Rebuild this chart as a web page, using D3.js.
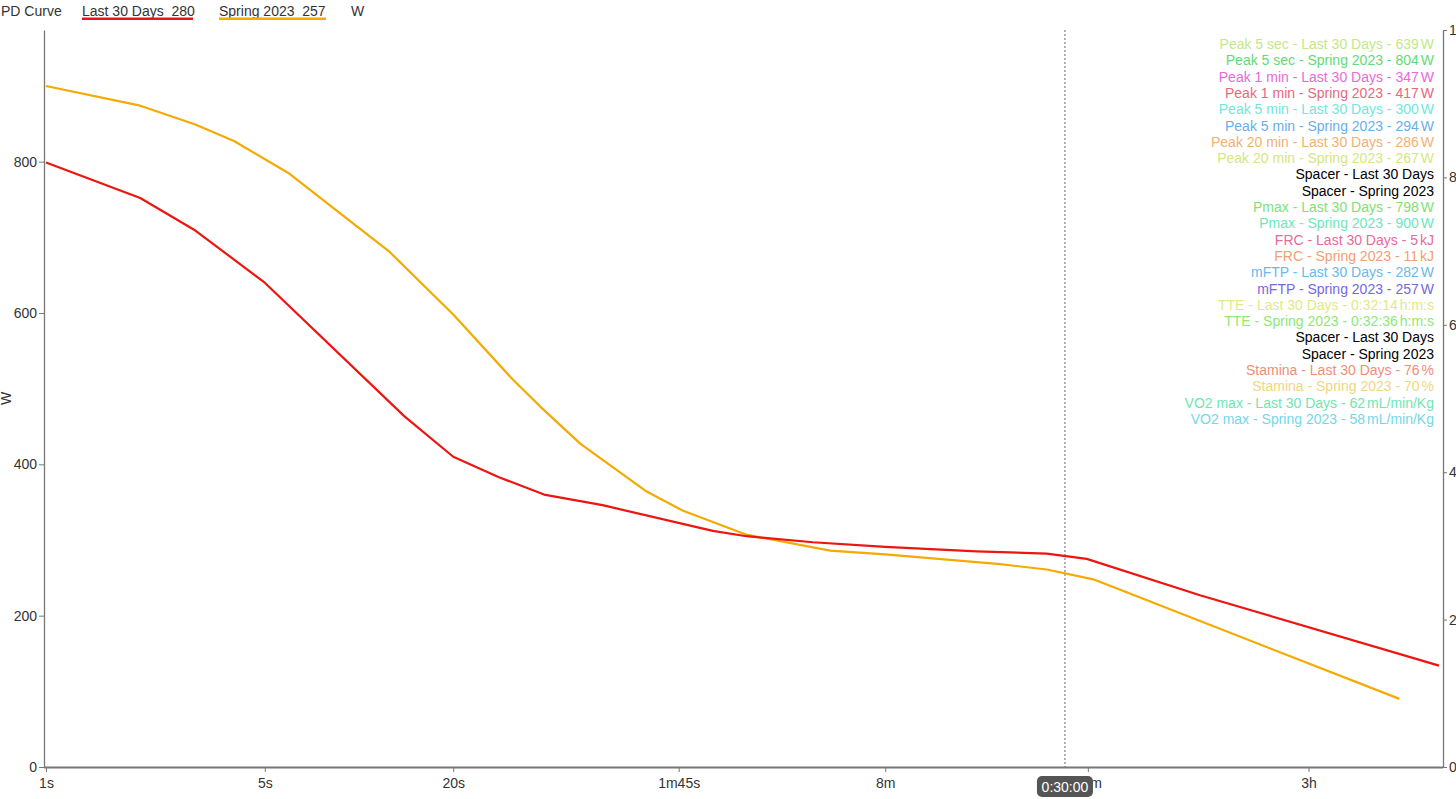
<!DOCTYPE html>
<html>
<head>
<meta charset="utf-8">
<script src="https://cdn.jsdelivr.net/npm/d3@7"></script>
<style>
  html, body { margin: 0; padding: 0; background: #fff; overflow: hidden; }
  svg { display: block; font-family: "Liberation Sans", Arial, sans-serif; }
  .axis text { fill: #333; font-size: 14px; }
  .axis path, .axis line { stroke: #777; }
</style>
</head>
<body>
<svg id="chart"></svg>
<script>
(function() {
    'use strict';

    // Power-duration curves (seconds, watts)
    const last30Secs = [1, 2, 3, 5, 14, 20, 28, 39, 60, 135, 173, 282, 480, 940, 1574, 2113, 4860, 28200];
    const last30Watts = [799, 752, 709, 640, 463, 410, 383, 360, 346, 312, 305, 297, 291, 285, 282, 275, 227, 134];

    const springSecs = [1, 2, 3, 4, 6, 9, 12.5, 20, 31, 38, 51, 83, 108, 173, 320, 480, 1117, 1574, 2218, 21080];
    const springWatts = [900, 874, 849, 827, 784, 727, 681, 598, 512, 476, 427, 364, 339, 307, 286, 281, 268, 261, 248, 90];

    // X axis ticks
    const xTickValues = [1, 5, 20, 105, 480, 2130, 10800];
    const xTickLabels = ['1s', '5s', '20s', '1m45s', '8m', '35m', '3h'];

    const yLeftTicks = [0, 200, 400, 600, 800];
    const yRightTicks = [0, 2, 4, 6, 8, 10];

    const markerSecs = 1800;
    const markerLabel = '0:30:00';

    // Legend entries on the right
    const infoLabels = [
        'Peak 5 sec - Last 30 Days - ', 'Peak 5 sec - Spring 2023 - ',
        'Peak 1 min - Last 30 Days - ', 'Peak 1 min - Spring 2023 - ',
        'Peak 5 min - Last 30 Days - ', 'Peak 5 min - Spring 2023 - ',
        'Peak 20 min - Last 30 Days - ', 'Peak 20 min - Spring 2023 - ',
        'Spacer - Last 30 Days', 'Spacer - Spring 2023',
        'Pmax - Last 30 Days - ', 'Pmax - Spring 2023 - ',
        'FRC - Last 30 Days - ', 'FRC - Spring 2023 - ',
        'mFTP - Last 30 Days - ', 'mFTP - Spring 2023 - ',
        'TTE - Last 30 Days - ', 'TTE - Spring 2023 - ',
        'Spacer - Last 30 Days', 'Spacer - Spring 2023',
        'Stamina - Last 30 Days - ', 'Stamina - Spring 2023 - ',
        'VO2 max - Last 30 Days - ', 'VO2 max - Spring 2023 - '
    ];
    const infoValues = ['639', '804', '347', '417', '300', '294', '286', '267', '', '',
        '798', '900', '5', '11', '282', '257', '0:32:14', '0:32:36', '', '',
        '76', '70', '62', '58'];
    const infoUnits = ['W', 'W', 'W', 'W', 'W', 'W', 'W', 'W', '', '',
        'W', 'W', 'kJ', 'kJ', 'W', 'W', 'h:m:s', 'h:m:s', '', '',
        '%', '%', 'mL/min/Kg', 'mL/min/Kg'];
    const infoColors = ['#c3e886', '#5fdc72', '#e86ad6', '#e8687e', '#72e6dc', '#6aaee8',
        '#f0b174', '#d6e680', '#000', '#000', '#7ee274', '#6ee6bc', '#e86a9c', '#f0a072',
        '#6cb8e8', '#7468e0', '#e0ea82', '#8ee876', '#000', '#000', '#f08e78', '#f0d682',
        '#6ee6b2', '#72d8ea'];

    const width = 1456, height = 799;
    const margin = { top: 30, right: 13, bottom: 32, left: 44 };
    const plotLeft = margin.left, plotRight = width - margin.right;
    const plotTop = margin.top, plotBottom = height - margin.bottom;

    const svg = d3.select('#chart')
        .attr('width', width)
        .attr('height', height);

    const x = d3.scaleLog()
        .domain([1, 29040])
        .range([plotLeft + 2, plotRight]);

    const y = d3.scaleLinear()
        .domain([0, 974])
        .range([plotBottom, plotTop]);

    const yRight = d3.scaleLinear()
        .domain([0, 10])
        .range([plotBottom, plotTop]);

    // Top legend
    const legend = svg.append('g').attr('class', 'top-legend')
        .style('font-size', '14px').style('fill', '#333');
    legend.append('text').attr('x', 1).attr('y', 16).text('PD Curve');
    const series = [
        { label: 'Last 30 Days', value: '280', color: '#ee1410', x: 82, w: 111 },
        { label: 'Spring 2023', value: '257', color: '#f5aa00', x: 219, w: 107 }
    ];
    series.forEach(s => {
        legend.append('text').attr('x', s.x).attr('y', 16)
            .text(s.label + '\u00a0\u00a0' + s.value);
        legend.append('rect').attr('x', s.x).attr('y', 17.5)
            .attr('width', s.w).attr('height', 2.5).attr('fill', s.color);
    });
    legend.append('text').attr('x', 351).attr('y', 16).text('W');

    // Axes
    const xAxis = svg.append('g')
        .attr('class', 'axis')
        .attr('transform', `translate(0, ${plotBottom})`)
        .call(d3.axisBottom(x)
            .tickValues(xTickValues)
            .tickFormat((d, i) => xTickLabels[i])
            .tickSize(5)
            .tickPadding(6)
            .tickSizeOuter(0));
    xAxis.select('.domain')
        .attr('d', `M${plotLeft},0.5H${plotRight}`)
        .attr('stroke', '#888').attr('stroke-width', 2);

    svg.append('g')
        .attr('class', 'axis')
        .attr('transform', `translate(${plotLeft}, 0)`)
        .call(d3.axisLeft(y)
            .tickValues(yLeftTicks)
            .tickSize(5)
            .tickPadding(2)
            .tickSizeOuter(0))
        .select('.domain').attr('stroke-width', 1.3);

    svg.append('g')
        .attr('class', 'axis')
        .attr('transform', `translate(${plotRight}, 0)`)
        .call(d3.axisRight(yRight)
            .tickValues(yRightTicks)
            .tickSize(4)
            .tickPadding(2)
            .tickSizeOuter(0))
        .select('.domain').attr('stroke-width', 1.3);

    svg.append('text')
        .attr('transform', `translate(11, ${(plotTop + plotBottom) / 2}) rotate(-90)`)
        .attr('text-anchor', 'middle')
        .style('font-size', '14px').style('fill', '#333')
        .text('W');

    // Marker line
    svg.append('line')
        .attr('x1', x(markerSecs)).attr('x2', x(markerSecs))
        .attr('y1', plotTop).attr('y2', plotBottom)
        .attr('stroke', '#666').attr('stroke-width', 1)
        .attr('stroke-dasharray', '2,2');

    // Curves
    const line = d3.line()
        .x(d => x(d[0]))
        .y(d => y(d[1]));

    const lines = [
        { secs: springSecs, watts: springWatts, color: '#f5aa00' },
        { secs: last30Secs, watts: last30Watts, color: '#ee1410' }
    ];
    lines.forEach(s => {
        svg.append('path')
            .datum(d3.zip(s.secs, s.watts))
            .attr('fill', 'none')
            .attr('stroke', s.color)
            .attr('stroke-width', 2.2)
            .attr('stroke-linejoin', 'round')
            .attr('d', line);
    });

    // Right-hand info labels
    const info = svg.append('g')
        .style('font-size', '14px')
        .attr('text-anchor', 'end');
    infoLabels.forEach((label, i) => {
        const t = info.append('text')
            .attr('x', 1434)
            .attr('y', 44 + i * 16.3 + 5)
            .attr('fill', infoColors[i]);
        t.append('tspan').text(label + infoValues[i]);
        if (infoUnits[i]) {
            t.append('tspan').attr('dx', 2).text(infoUnits[i]);
        }
    });

    // Marker badge
    const bx = x(markerSecs);
    svg.append('rect')
        .attr('x', bx - 28).attr('y', 776)
        .attr('width', 56).attr('height', 21)
        .attr('rx', 5)
        .attr('fill', '#555');
    svg.append('text')
        .attr('x', bx).attr('y', 791.5)
        .attr('text-anchor', 'middle')
        .style('font-size', '14px').style('fill', '#fff')
        .text(markerLabel);
})();
</script>
</body>
</html>
